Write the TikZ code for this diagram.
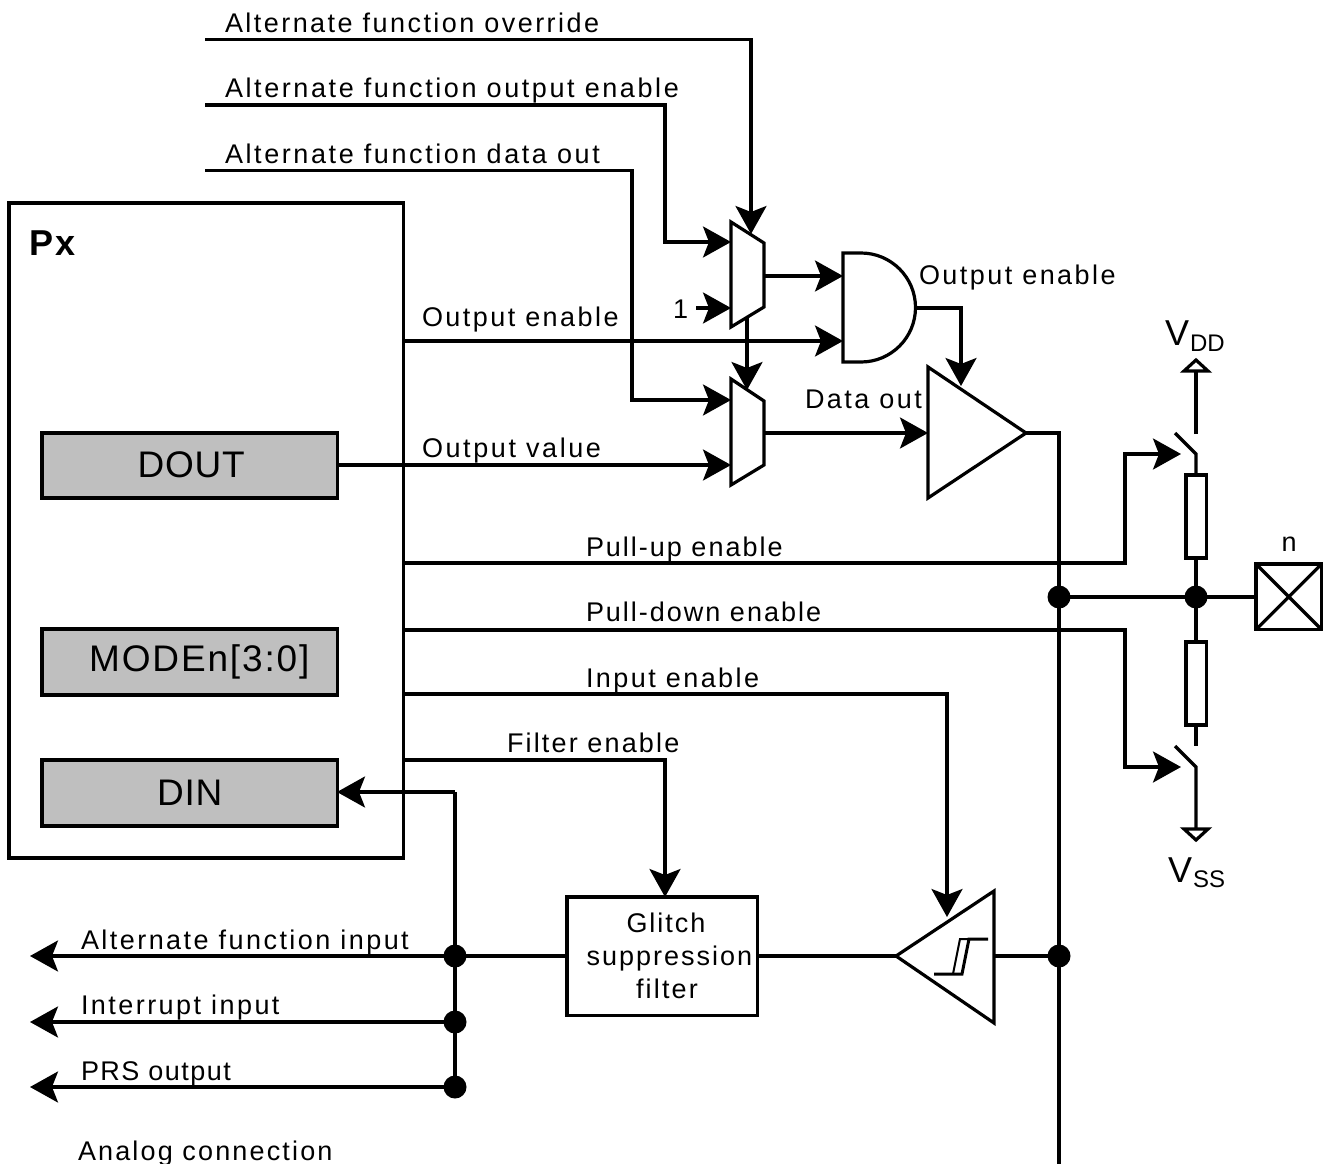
\documentclass[tikz,border=0pt]{standalone}
\usepackage{fontspec}
\setmainfont{Liberation Sans}
\newfontfamily\lab[LetterSpace=8]{Liberation Sans}
\newfontfamily\labw[LetterSpace=9.1]{Liberation Sans}
\newfontfamily\labx[LetterSpace=9.6]{Liberation Sans}
\newfontfamily\labs[LetterSpace=7.4]{Liberation Sans}
\newfontfamily\labn[LetterSpace=5.5]{Liberation Sans}
\newfontfamily\boxf[LetterSpace=2]{Liberation Sans}
\newfontfamily\boxw[LetterSpace=5]{Liberation Sans}
\usetikzlibrary{arrows.meta}
\tikzset{
  x=1pt,y=-1pt,
  every path/.style={line width=3.2pt,line join=miter},
  wire/.style={draw,line width=3.2pt},
  arr/.style={wire,-{Stealth[length=28pt,width=31pt,inset=6pt]}},
  txt/.style={anchor=base west,inner sep=0pt,outer sep=0pt,font=\lab\fontsize{27}{30}\selectfont},
  txw/.style={txt,font=\labw\fontsize{27}{30}\selectfont},
  txx/.style={txt,font=\labx\fontsize{27}{30}\selectfont},
  txs/.style={txt,font=\labs\fontsize{27}{30}\selectfont},
  txn/.style={txt,font=\labn\fontsize{27}{30}\selectfont},
  ctxt/.style={txt,anchor=base},
  block/.style={draw,line width=3.2pt,rectangle,inner sep=0pt,outer sep=0pt,anchor=north west,align=center},
  reg/.style={block,fill=black!25,font=\boxf\fontsize{37}{40}\selectfont},
  dot/.style={circle,fill=black,draw=none,inner sep=0pt,minimum size=23pt},
  gate/.style={draw,line width=3.2pt,fill=white,line join=miter}
}
\begin{document}
\begin{tikzpicture}
\useasboundingbox (0,0) rectangle (1331,1164);

% blocks
\node[block,minimum width=394.5pt,minimum height=655pt] (px) at (9,203) {};
\node[reg,minimum width=295.5pt,minimum height=65pt] (dout) at (42,433) {\hspace{3pt}\raisebox{1pt}{DOUT}};
\node[reg,minimum width=295.5pt,minimum height=66pt] (mode) at (42,629) {\hspace{19pt}\raisebox{-2pt}{\boxw MODEn[3:0]}};
\node[reg,minimum width=295.5pt,minimum height=66pt] (din) at (42,760) {\raisebox{1pt}{DIN}};
\node[block,minimum width=190.5pt,minimum height=118.5pt] (filter) at (567,897) {};
\node[block,minimum width=65.5pt,minimum height=65.5pt] (pad) at (1256,564) {};
\node[block,minimum width=20.5pt,minimum height=83pt] (r1) at (1186,475) {};
\node[block,minimum width=20.5pt,minimum height=83pt] (r2) at (1186,642) {};
\draw (pad.north west) -- (pad.south east) (pad.south west) -- (pad.north east);

% free ends of connectors
\coordinate (s1) at (205,39.5);  \coordinate (s1c) at (751,39.5);  \coordinate (m1sel) at (751,234);
\coordinate (s2) at (205,105); \coordinate (s2c) at (665,105); \coordinate (s2d) at (665,242); \coordinate (m1a) at (731,242);
\coordinate (s3) at (205,170.5); \coordinate (s3c) at (632,170.5); \coordinate (s3d) at (632,400); \coordinate (m2a) at (731,400);
\coordinate (one) at (696,308); \coordinate (m1b) at (731,308);
\coordinate (m1out) at (764,276); \coordinate (anda) at (843,276);
\coordinate (oe) at (403,341); \coordinate (andb) at (843,341);
\coordinate (m1s) at (747,318); \coordinate (m2sel) at (747,390);
\coordinate (ov) at (337,465); \coordinate (m2b) at (731,465);
\coordinate (m2out) at (764,433); \coordinate (bufin) at (928,433);
\coordinate (andout) at (915,308); \coordinate (andc) at (961,308); \coordinate (bufen) at (961,386);
\coordinate (buftip) at (1026,433); \coordinate (busa) at (1059,433); \coordinate (busb) at (1059,1164);
\coordinate (pu) at (403,563); \coordinate (puc) at (1125,563); \coordinate (pud) at (1125,454); \coordinate (sw1) at (1181,454);
\coordinate (pd) at (403,630); \coordinate (pdc) at (1125,630); \coordinate (pdd) at (1125,767); \coordinate (sw2) at (1181,767);
\coordinate (ie) at (403,694); \coordinate (iec) at (947,694); \coordinate (ied) at (947,917);
\coordinate (fe) at (403,760); \coordinate (fec) at (665,760);
\coordinate (dinr) at (337,792); \coordinate (dinc) at (455,792);
\coordinate (o1) at (30,956); \coordinate (o2) at (30,1022); \coordinate (o3) at (30,1087);
\coordinate (sttip) at (896,956); \coordinate (stout) at (994,956);

% dots
\node[dot] (j1) at (1059,597) {};
\node[dot] (j2) at (1196,597) {};
\node[dot] (j3) at (1059,956) {};
\node[dot] (j4) at (455,956) {};
\node[dot] (j5) at (455,1022) {};
\node[dot] (j6) at (455,1087) {};

% connectors
\draw[arr] (s1) -- (s1c) -- (m1sel);
\draw[arr] (s2) -- (s2c) -- (s2d) -- (m1a);
\draw[arr] (s3) -- (s3c) -- (s3d) -- (m2a);
\draw[arr] (one) -- (m1b);
\draw[arr] (m1out) -- (anda);
\draw[arr] (oe) -- (andb);
\draw[arr] (m1s) -- (m2sel);
\draw[arr] (ov) -- (m2b);
\draw[arr] (m2out) -- (bufin);
\draw[arr] (andout) -- (andc) -- (bufen);
\draw[wire] (buftip) -- (busa) -- (busb);
\draw[arr] (pu) -- (puc) -- (pud) -- (sw1);
\draw[arr] (pd) -- (pdc) -- (pdd) -- (sw2);
\draw[arr] (ie) -- (iec) -- (ied);
\draw[arr] (fe) -- (fec) -- (filter.north -| fec);
\draw[arr] (dinc) -- (dinr);
\draw[wire] (dinc) -- (j6.center);
\draw[arr] (j4.center) -- (o1);
\draw[arr] (j5.center) -- (o2);
\draw[arr] (j6.center) -- (o3);
\draw[wire] (j4.center) -- (filter.west |- j4);
\draw[wire] (filter.east |- sttip) -- (sttip);
\draw[wire] (stout) -- (j3.center);
\draw[wire] (j1.center) -- (j2.center) -- (pad.west |- j2);
\draw[wire] (r1.south -| j2) -- (j2.center) -- (r2.north -| j2);

% switches and supplies
\coordinate (vdd) at (1196,360);
\coordinate (vddl) at (1196,434);
\coordinate (k1) at (1196,454);
\coordinate (k1o) at (1175,433);
\coordinate (k2) at (1196,767);
\coordinate (k2o) at (1175,746);
\coordinate (k2s) at (1196,746);
\coordinate (vss) at (1196,840);
\draw[wire] (r1.north -| k1) -- (k1) -- (k1o);
\draw[wire] (vddl) -- (1196,370);
\draw (vdd) -- (1208,371) -- (1184,371) -- cycle;
\draw[wire] (r2.south -| k2) -- (k2s);
\draw[wire] (k2o) -- (k2) -- (1196,829);
\draw (vss) -- (1208,829) -- (1184,829) -- cycle;

% muxes, gate, buffers
\draw[gate] (731,222) -- (764,243) -- (764,307) -- (731,327) -- cycle;
\draw[gate] (731,379) -- (764,401) -- (764,465) -- (731,485) -- cycle;
\draw[gate] (843,253) -- (861,253) arc[start angle=90,end angle=-90,radius=54.5pt] -- (843,362) -- cycle;
\draw[gate] (928,367) -- (buftip) -- (928,498) -- cycle;
\draw[gate] (sttip) -- (994,891) -- (994,1023) -- cycle;
\draw[line width=3pt] (934,974) -- (962,974) -- (969,939) -- (988,939);
\draw[line width=2pt] (953,974) -- (960,939) -- (969,939);

% labels
\node[txw] (l1) at (225,33) {Alternate function override};
\node[txx] (l2) at (225,98) {Alternate function output enable};
\node[txx] (l3) at (225,163) {Alternate function data out};
\node[txw] (l4) at (919,284) {Output enable};
\node[txw] (l5) at (422,326) {Output enable};
\node[txx] (l6) at (422,457) {Output value};
\node[txw] (l7) at (805,408) {Data out};
\node[txs] (l8) at (586,556) {Pull-up enable};
\node[txs] (l9) at (586,621) {Pull-down enable};
\node[txw] (l10) at (586,687) {Input enable};
\node[txt] (l11) at (507,752) {Filter enable};
\node[txw] (l12) at (81,949) {Alternate function input};
\node[txw] (l13) at (81,1014) {Interrupt input};
\node[txn] (l14) at (81,1080) {PRS output};
\node[txt] (l15) at (78,1160) {Analog connection};
\node[txs,anchor=base] (g1) at (666,932) {Glitch};
\node[txs,anchor=base] (g2) at (669.5,965) {suppression};
\node[ctxt] (g3) at (667,998) {filter};
\node[txt] (one-l) at (673,318) {1};
\node[ctxt] (n-l) at (1289,551) {n};
\node[txt,font=\fontsize{36}{40}\selectfont\bfseries\lab] (px-l) at (29,255) {Px};
\node[txt,font=\fontsize{36}{40}\selectfont] (vdd-l) at (1165,345) {V\kern1pt\raisebox{-6pt}{\fontsize{24}{26}\selectfont DD}};
\node[txt,font=\fontsize{36}{40}\selectfont] (vss-l) at (1168,882) {V\kern1pt\raisebox{-5pt}{\fontsize{24}{26}\selectfont SS}};
\end{tikzpicture}
\end{document}
